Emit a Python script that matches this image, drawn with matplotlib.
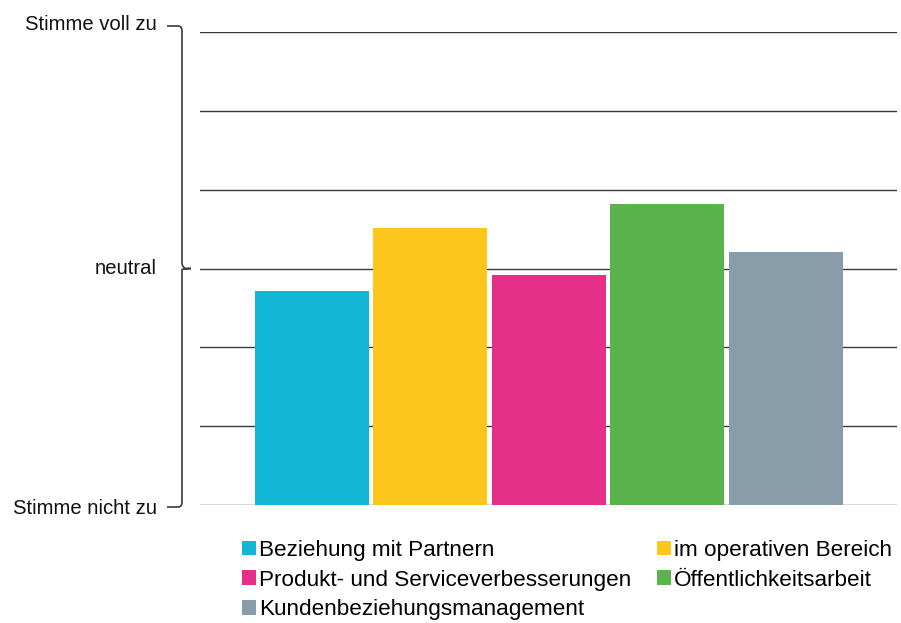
import matplotlib.pyplot as plt
from matplotlib.path import Path
from matplotlib.patches import PathPatch, Patch

# Zustimmung je Bereich (0 = stimme nicht zu, 3 = neutral, 6 = stimme voll zu)
bereiche = [
    "Beziehung mit Partnern",
    "im operativen Bereich",
    "Produkt- und Serviceverbesserungen",
    "Öffentlichkeitsarbeit",
    "Kundenbeziehungsmanagement",
]
werte = [2.72, 3.51, 2.92, 3.82, 3.21]
farben = ["#12b6d7", "#fdc61c", "#e5308a", "#5ab34d", "#879daa"]
skala_pos = [6, 3, 0]
skala_text = ["Stimme voll zu", "neutral", "Stimme nicht zu"]

plt.rcParams["font.family"] = ["Liberation Sans", "DejaVu Sans"]

W, H = 901, 623
fig = plt.figure(figsize=(W / 100, H / 100), dpi=100)

# main plot area
ax = fig.add_axes([200 / W, 1 - 505 / H, 697 / W, 473 / H])
x = list(range(len(werte)))
ax.bar(x, werte, width=0.962, color=farben, zorder=3)
ax.set_ylim(0, 6)
ax.set_xlim(-0.945, 4.94)
for y in range(1, 7):
    ax.axhline(y, color="#3a3a3a", lw=1.0, zorder=1)
ax.axhline(0, color="#d2d2d2", lw=1.2, zorder=1)
ax.set_xticks([])
ax.set_yticks([])
for s in ax.spines.values():
    s.set_visible(False)

# overlay in pixel coordinates for the scale labels and the brace
ov = fig.add_axes([0, 0, 1, 1], zorder=5)
ov.set_xlim(0, W)
ov.set_ylim(H, 0)
ov.axis("off")
ov.patch.set_alpha(0)

def pix_y(v):
    return 505 - v * (473 / 6)

label_shift = {6: -8, 3: 0, 0: 4}
for v, t in zip(skala_pos, skala_text):
    ov.text(157, pix_y(v) + label_shift[v], t, ha="right", va="center",
            fontsize=14.6, color="#111111")

top = pix_y(6) - 6
mid = pix_y(3)
bot = pix_y(0) + 2
verts = [
    (167, top), (178, top), (182, top), (182, top + 5),
    (182, mid - 6),
    (182, mid - 1), (186, mid), (191, mid),
    (186, mid), (182, mid + 1), (182, mid + 6),
    (182, bot - 5),
    (182, bot), (178, bot), (167, bot),
]
codes = [Path.MOVETO, Path.LINETO, Path.CURVE3, Path.CURVE3,
         Path.LINETO,
         Path.CURVE3, Path.CURVE3, Path.LINETO,
         Path.CURVE3, Path.CURVE3, Path.LINETO,
         Path.LINETO,
         Path.CURVE3, Path.CURVE3, Path.LINETO]
ov.add_patch(PathPatch(Path(verts, codes), fill=False, ec="#3a3a3a", lw=1.2))

# legend, row-wise order in two columns
handles = [Patch(facecolor=c, edgecolor="none") for c in farben]
order = [0, 2, 4, 1, 3]
fig.legend([handles[i] for i in order], [bereiche[i] for i in order],
           ncol=2, loc="upper left", bbox_to_anchor=(242 / W, 1 - 540 / H),
           frameon=False, fontsize=16.2, handlelength=0.63, handleheight=0.63,
           handletextpad=0.12, columnspacing=1.15, labelspacing=0.38,
           borderpad=0, borderaxespad=0)

fig.savefig("out.png", dpi=100)
